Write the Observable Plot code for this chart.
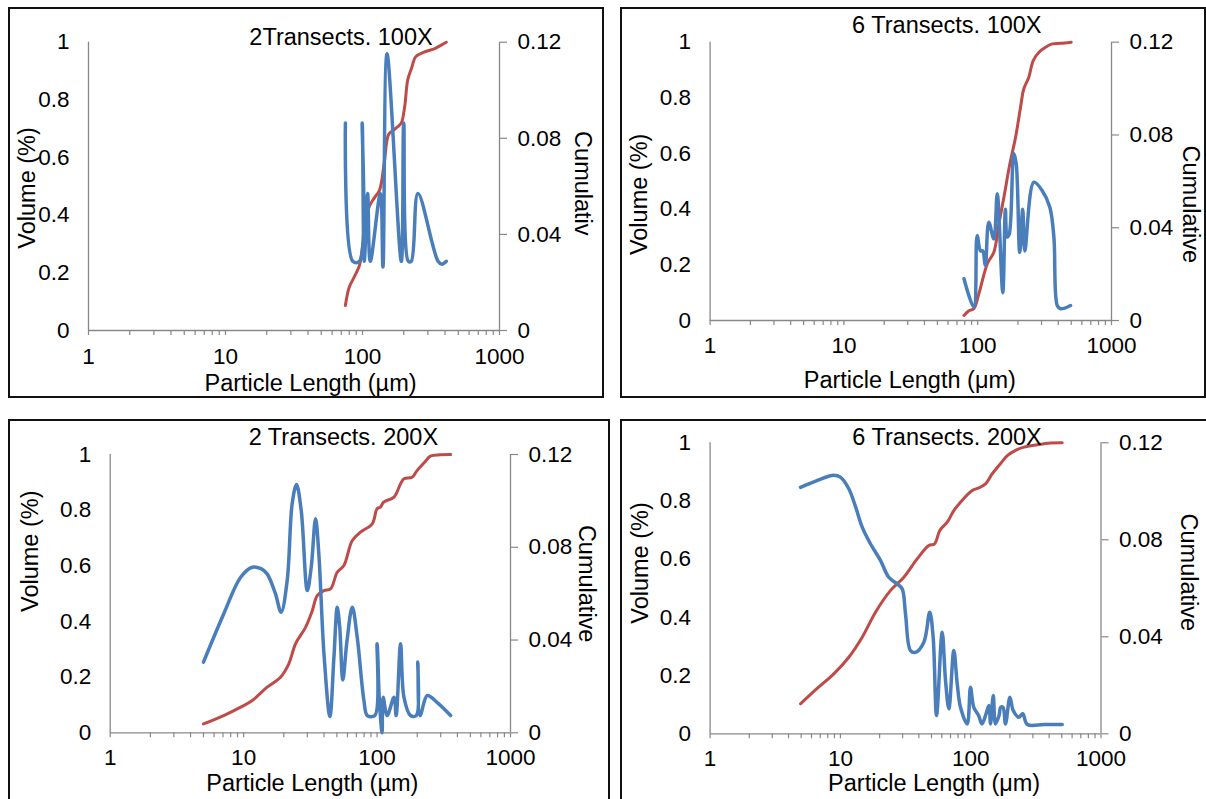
<!DOCTYPE html>
<html><head><meta charset="utf-8">
<script src="https://cdn.jsdelivr.net/npm/d3@7"></script>
<script src="https://cdn.jsdelivr.net/npm/@observablehq/plot@0.6"></script>
<style>
html,body{margin:0;padding:0;background:#fff;}
#root{position:relative;width:1206px;height:799px;overflow:hidden;background:#fff;}
.box{position:absolute;box-sizing:border-box;border:2px solid #111;pointer-events:none;}
#root svg{position:absolute;}
</style></head><body><div id="root"></div>
<script>
// ---------- text ----------
const panelTitles = ["2Transects. 100X", "6 Transects. 100X", "2 Transects. 200X", "6 Transects. 200X"];
const xAxisTitles = ["Particle Length (µm)", "Particle Length (μm)", "Particle Length (µm)", "Particle Length (μm)"];
const yAxisTitle = "Volume (%)";
const rightAxisTitles = ["Cumulativ", "Cumulative", "Cumulative", "Cumulative"];
const xTickValues = [1, 10, 100, 1000];
const leftTickValues = [0, 0.2, 0.4, 0.6, 0.8, 1];
const rightTickValues = [0, 0.04, 0.08, 0.12];
const rightAxisMax = 0.12;

// ---------- data: [particle length µm, value on left axis] ----------
const volume2T100 = [[75,0.72],[85,0.24],[95,0.24],[99.5,0.72],[103,0.24],[109,0.475],[114,0.24],[135,0.475],[141,0.22],[151,0.96],[192,0.24],[200,0.72],[216,0.24],[227,0.24],[254,0.475],[356,0.24],[380,0.23],[409,0.24]];
const cumulative2T100 = [[75,0.087],[80,0.15],[88,0.19],[95,0.226],[100,0.29],[106,0.37],[112,0.43],[122,0.46],[133,0.486],[144,0.58],[155,0.68],[168,0.695],[180,0.706],[192,0.72],[203,0.775],[214,0.87],[228,0.91],[245,0.95],[282,0.966],[337,0.978],[375,0.99],[409,1.0]];

const volume6T100 = [[79,0.15],[93.5,0.048],[99,0.305],[105,0.25],[109,0.25],[114,0.198],[121,0.353],[132,0.293],[140,0.455],[154,0.10],[161,0.40],[166,0.30],[172,0.31],[186,0.60],[194,0.563],[206,0.245],[217,0.40],[225,0.25],[263,0.497],[303,0.467],[346,0.407],[371,0.30],[393,0.054],[416,0.042],[494,0.054]];
const cumulative6T100 = [[79,0.018],[86,0.035],[93.5,0.042],[102,0.096],[118,0.204],[132,0.245],[144,0.347],[157,0.443],[174,0.563],[192,0.659],[209,0.766],[221,0.832],[241,0.874],[260,0.934],[287,0.964],[321,0.982],[361,0.994],[416,0.996],[500,1.0]];

const volume2T200 = [[5,0.254],[7.1,0.428],[9.5,0.559],[11.6,0.595],[13.5,0.59],[15,0.571],[17.3,0.50],[19.1,0.433],[21.2,0.547],[23.1,0.823],[24.9,0.892],[27,0.80],[30,0.511],[32.1,0.595],[34.6,0.769],[36.6,0.643],[40,0.284],[44.3,0.059],[47.5,0.272],[50.3,0.451],[52.5,0.38],[55.4,0.19],[59.5,0.33],[65.2,0.451],[71,0.343],[79.7,0.116],[84.5,0.062],[96.3,0.062],[100,0.32],[104,0.12],[109,0.0],[111,0.128],[119,0.062],[134,0.128],[139,0.062],[150,0.32],[159,0.128],[178,0.062],[197,0.062],[202,0.254],[210,0.062],[238,0.134],[280,0.11],[356,0.062]];
const cumulative2T200 = [[5,0.032],[7.1,0.062],[9.5,0.092],[11.6,0.116],[15,0.164],[18.9,0.20],[21.8,0.248],[24.5,0.32],[29.1,0.379],[32.7,0.439],[35.6,0.493],[40,0.511],[44.8,0.517],[50.3,0.577],[56.4,0.601],[65.2,0.691],[75.2,0.721],[92,0.751],[100,0.805],[106,0.811],[112,0.829],[134,0.847],[150,0.895],[159,0.913],[183,0.918],[200,0.943],[227,0.972],[251,0.994],[297,0.999],[356,1.0]];

const volume6T200 = [[4.94,0.847],[6.6,0.87],[8.65,0.888],[10,0.882],[11.6,0.842],[13.1,0.779],[14.7,0.71],[17,0.653],[20.3,0.596],[23.5,0.538],[27.3,0.515],[29.8,0.498],[31.6,0.412],[34.5,0.286],[37.7,0.28],[43.7,0.315],[48.5,0.418],[51.5,0.332],[54.7,0.063],[60.4,0.349],[64.1,0.183],[68,0.086],[74.2,0.286],[78.8,0.172],[83.5,0.091],[94,0.034],[99.6,0.16],[105.6,0.091],[115,0.063],[122,0.034],[130,0.063],[138,0.097],[142,0.034],[149,0.132],[155,0.034],[165,0.063],[170,0.091],[177,0.091],[185,0.034],[200,0.126],[212,0.08],[234,0.057],[251,0.069],[272,0.032],[364,0.032],[504,0.032]];
const cumulative6T200 = [[4.94,0.103],[6.6,0.155],[8.9,0.206],[11.6,0.263],[14.7,0.332],[18.6,0.418],[24.2,0.492],[30.7,0.538],[38.8,0.601],[47.7,0.647],[52.8,0.653],[58,0.699],[66,0.727],[74.2,0.767],[83.5,0.796],[102.6,0.836],[115,0.845],[130,0.859],[146,0.893],[169,0.928],[191,0.956],[221,0.974],[256,0.985],[324,0.993],[409,0.999],[504,1.0]];

const volumeSeries = [volume2T100, volume6T100, volume2T200, volume6T200];
const cumulativeSeries = [cumulative2T100, cumulative6T100, cumulative2T200, cumulative6T200];

// ---------- layout ----------
const layout = [
  {left:8, top:7, width:596, height:391, mL:80, mR:105, mT:34.7, mB:68, tDx:47, tDy:-5, xDx:16.5, xDy:52.7, xPad:18, yDx:-61, yDy:1.6, rDx:83.5, rDy:-3},
  {left:620, top:7, width:586, height:391, mL:89.6, mR:95, mT:34.7, mB:78, tDx:36, tDy:-16.7, xDx:-1, xDy:60, xPad:17, yDx:-71, yDy:13, rDx:79, rDy:23},
  {left:8, top:419, width:602, height:390, mL:101.7, mR:100, mT:35, mB:76.7, tDx:33, tDy:-17.3, xDx:2, xDy:50.7, xPad:16, yDx:-79.3, yDy:-42.4, rDx:75.6, rDy:-10},
  {left:620, top:419, width:600, height:390, mL:89.6, mR:119.5, mT:23.3, mB:75.7, tDx:41.5, tDy:-5.6, xDx:28.6, xDy:50, xPad:16, yDx:-70, yDy:-25.3, rDx:88, rDy:-16}
];

const gray = "#888888";
const red = "#BE4B48";
const blue = "#4A7EBB";
const font = "'Liberation Sans', Arial, sans-serif";
const tickFont = 22.5;
const titleFont = 23.5;
const minorTicks = d3.scaleLog().domain([1, 1000]).ticks();
const rightTickPos = rightTickValues.map(v => v / rightAxisMax);
const root = document.getElementById("root");

layout.forEach((L, i) => {
  const txt = {text: d => d, fontSize: titleFont, fill: "#000", lineAnchor: "middle", textAnchor: "middle"};
  const svg = Plot.plot({
    width: L.width, height: L.height,
    marginLeft: L.mL, marginRight: L.mR, marginTop: L.mT, marginBottom: L.mB,
    x: {type: "log", domain: [1, 1000]},
    y: {domain: [0, 1]},
    style: {fontFamily: font, fontSize: tickFont + "px", color: "#000", background: "transparent", overflow: "visible"},
    marks: [
      Plot.ruleX([1], {stroke: gray, strokeWidth: 1.3}),
      Plot.ruleX([1000], {stroke: gray, strokeWidth: 1.3}),
      Plot.ruleY([0], {stroke: gray, strokeWidth: 1.3}),
      Plot.axisX({ticks: minorTicks, tickSize: 5, stroke: gray, strokeWidth: 1.2, strokeOpacity: 1, tickFormat: () => "", label: null}),
      Plot.axisX({ticks: xTickValues, tickSize: 0, tickPadding: L.xPad, tickFormat: d => String(d), fill: "#000", label: null}),
      Plot.axisY({anchor: "left", ticks: leftTickValues, tickSize: 0, tickPadding: 19, tickFormat: d => String(+d.toFixed(1)), fill: "#000", label: null}),
      Plot.axisY({anchor: "right", ticks: rightTickPos, tickSize: 7, tickPadding: 11, stroke: gray, strokeWidth: 1.2, strokeOpacity: 1, tickFormat: d => String(+(d * rightAxisMax).toFixed(2)), fill: "#000", label: null}),
      Plot.line(cumulativeSeries[i], {x: d => d[0], y: d => d[1], stroke: red, strokeWidth: 3, curve: "catmull-rom"}),
      Plot.line(volumeSeries[i], {x: d => d[0], y: d => d[1], stroke: blue, strokeWidth: 3.5, curve: "catmull-rom"}),
      Plot.text([panelTitles[i]], {...txt, frameAnchor: "top", dx: L.tDx, dy: L.tDy}),
      Plot.text([xAxisTitles[i]], {...txt, frameAnchor: "bottom", dx: L.xDx, dy: L.xDy}),
      Plot.text([yAxisTitle], {...txt, frameAnchor: "left", dx: L.yDx, dy: L.yDy, rotate: -90}),
      Plot.text([rightAxisTitles[i]], {...txt, frameAnchor: "right", dx: L.rDx, dy: L.rDy, rotate: 90})
    ]
  });
  svg.style.left = L.left + "px";
  svg.style.top = L.top + "px";
  root.appendChild(svg);
  const box = document.createElement("div");
  box.className = "box";
  box.style.left = L.left + "px";
  box.style.top = L.top + "px";
  box.style.width = L.width + "px";
  box.style.height = L.height + "px";
  root.appendChild(box);
});
</script></body></html>
